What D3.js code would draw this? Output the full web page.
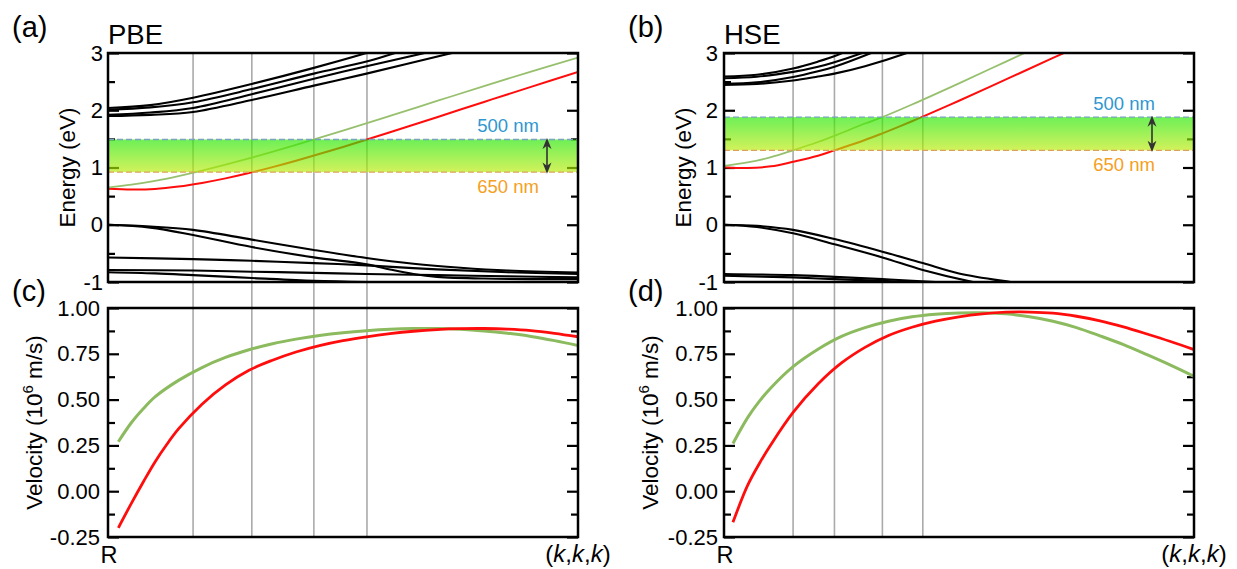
<!DOCTYPE html>
<html><head><meta charset="utf-8">
<script src="https://cdn.jsdelivr.net/npm/d3@7"></script>
<style>
body{margin:0;background:#fff}
svg{display:block}
text{font-family:"Liberation Sans",Arial,sans-serif;fill:#000}
</style>
</head><body>
<svg id="chart" width="1237" height="569"></svg>
<script>
// ---------- DATA (k runs from R = 0 to (k,k,k) = 1) ----------
// Panel (a) PBE energies (eV)
const pbeGreenE = [[0,0.65],[0.05,0.70],[0.1,0.767],[0.15,0.85],[0.2,0.945],[0.3,1.159],[0.4,1.395],[0.5,1.644],[0.6,1.901],[0.7,2.162],[0.8,2.422],[0.9,2.676],[1.0,2.92]];
const pbeRedE = [[0,0.63],[0.05,0.616],[0.1,0.626],[0.15,0.668],[0.2,0.731],[0.25,0.81],[0.3,0.903],[0.35,1.007],[0.4,1.119],[0.5,1.359],[0.6,1.615],[0.7,1.879],[0.8,2.145],[0.9,2.409],[1.0,2.667]];
const pbeCond1 = [[0,2.04],[0.09,2.09],[0.181,2.22],[0.306,2.46],[0.438,2.74],[0.55,3.0],[0.65,3.25]];
const pbeCond2 = [[0,2.01],[0.09,2.05],[0.181,2.14],[0.306,2.37],[0.438,2.64],[0.55,2.85],[0.611,3.0],[0.7,3.22]];
const pbeCond3 = [[0,1.92],[0.09,1.96],[0.181,2.04],[0.306,2.28],[0.438,2.55],[0.55,2.77],[0.674,3.0],[0.75,3.15]];
const pbeCond4 = [[0,1.90],[0.09,1.92],[0.181,1.97],[0.306,2.18],[0.438,2.43],[0.55,2.64],[0.732,3.0],[0.8,3.13]];
const pbeVal1 = [[0,0],[0.09,-0.03],[0.181,-0.09],[0.306,-0.26],[0.438,-0.44],[0.55,-0.58],[0.65,-0.68],[0.75,-0.75],[0.85,-0.80],[1.0,-0.835]];
const pbeVal2 = [[0,0],[0.09,-0.05],[0.181,-0.18],[0.306,-0.39],[0.438,-0.57],[0.55,-0.69],[0.6,-0.78],[0.65,-0.86],[0.7,-0.91],[0.8,-0.94],[1.0,-0.95]];
const pbeVal3 = [[0,-0.573],[0.181,-0.60],[0.306,-0.63],[0.438,-0.67],[0.55,-0.71],[0.7,-0.78],[0.85,-0.83],[1.0,-0.86]];
const pbeVal4 = [[0,-0.79],[0.181,-0.80],[0.306,-0.82],[0.438,-0.84],[0.55,-0.86],[0.7,-0.88],[0.85,-0.90],[1.0,-0.92]];
const pbeVal5 = [[0,-0.83],[0.1,-0.85],[0.181,-0.88],[0.306,-0.93],[0.438,-0.98],[0.55,-1.0],[0.7,-1.01],[1.0,-1.0]];
const pbeBand = [0.92, 1.49];           // 650 nm / 500 nm energies
const pbeMarks = [0.181, 0.306, 0.438, 0.551];

// Panel (c) PBE velocities (10^6 m/s)
const pbeGreenV = [[0.022,0.27],[0.05,0.375],[0.075,0.45],[0.1,0.515],[0.15,0.605],[0.2,0.675],[0.25,0.73],[0.3,0.772],[0.35,0.805],[0.4,0.83],[0.45,0.85],[0.5,0.865],[0.55,0.876],[0.6,0.884],[0.65,0.888],[0.7,0.888],[0.75,0.884],[0.8,0.875],[0.85,0.862],[0.9,0.845],[0.95,0.822],[1.0,0.795]];
const pbeRedV = [[0.022,-0.20],[0.05,-0.065],[0.075,0.05],[0.1,0.16],[0.125,0.255],[0.15,0.34],[0.2,0.475],[0.25,0.58],[0.3,0.66],[0.35,0.715],[0.4,0.76],[0.45,0.795],[0.5,0.822],[0.55,0.843],[0.6,0.86],[0.65,0.873],[0.7,0.882],[0.75,0.887],[0.8,0.888],[0.85,0.885],[0.9,0.877],[0.95,0.862],[1.0,0.843]];

// Panel (b) HSE energies (eV)
const hseGreenE = [[0,1.03],[0.05,1.088],[0.1,1.18],[0.147,1.30],[0.2,1.445],[0.235,1.553],[0.3,1.768],[0.337,1.88],[0.4,2.10],[0.5,2.47],[0.6,2.85],[0.7,3.23]];
const hseRedE = [[0,1.005],[0.05,0.99],[0.1,1.02],[0.147,1.10],[0.2,1.205],[0.235,1.30],[0.3,1.48],[0.337,1.597],[0.4,1.808],[0.423,1.888],[0.5,2.166],[0.6,2.538],[0.7,2.914],[0.8,3.28]];
const hseCond1 = [[0,2.59],[0.07,2.62],[0.147,2.73],[0.2,2.85],[0.24,2.96],[0.3,3.17]];
const hseCond2 = [[0,2.56],[0.07,2.585],[0.147,2.67],[0.2,2.76],[0.235,2.84],[0.294,3.0],[0.35,3.18]];
const hseCond3 = [[0,2.46],[0.07,2.487],[0.147,2.58],[0.2,2.68],[0.235,2.76],[0.313,3.0],[0.37,3.2]];
const hseCond4 = [[0,2.44],[0.07,2.458],[0.147,2.52],[0.2,2.59],[0.235,2.64],[0.3,2.77],[0.389,3.0],[0.45,3.2]];
const hseVal1 = [[0,0],[0.07,-0.02],[0.147,-0.09],[0.235,-0.25],[0.337,-0.47],[0.423,-0.67],[0.5,-0.85],[0.61,-1.0],[0.7,-1.1]];
const hseVal2 = [[0,0],[0.07,-0.04],[0.147,-0.15],[0.235,-0.34],[0.337,-0.57],[0.423,-0.79],[0.53,-1.0],[0.6,-1.1]];
const hseVal3 = [[0,-0.86],[0.147,-0.88],[0.235,-0.91],[0.337,-0.95],[0.45,-1.0],[0.6,-1.05]];
const hseVal4 = [[0,-0.89],[0.147,-0.92],[0.235,-0.95],[0.337,-0.98],[0.4,-1.0],[0.5,-1.03]];
const hseBand = [1.30, 1.88];
const hseMarks = [0.147, 0.235, 0.337, 0.423];

// Panel (d) HSE velocities (10^6 m/s)
const hseGreenV = [[0.019,0.26],[0.05,0.40],[0.075,0.49],[0.1,0.565],[0.147,0.68],[0.2,0.775],[0.25,0.845],[0.3,0.893],[0.35,0.928],[0.4,0.952],[0.45,0.966],[0.5,0.973],[0.55,0.974],[0.6,0.968],[0.65,0.952],[0.7,0.928],[0.75,0.893],[0.8,0.848],[0.85,0.80],[0.9,0.745],[0.95,0.688],[1.0,0.627]];
const hseRedV = [[0.019,-0.17],[0.05,0.03],[0.075,0.15],[0.1,0.255],[0.147,0.43],[0.2,0.585],[0.25,0.70],[0.3,0.785],[0.35,0.85],[0.4,0.895],[0.45,0.928],[0.5,0.952],[0.55,0.968],[0.6,0.977],[0.65,0.978],[0.7,0.972],[0.75,0.955],[0.8,0.93],[0.85,0.897],[0.9,0.858],[0.95,0.817],[1.0,0.773]];

// Tick values / labels
const energyMajor = [-1,0,1,2,3];
const energyMinor = [-0.5,0.5,1.5,2.5];
const velMajor = [-0.25,0,0.25,0.5,0.75,1.0];
const velMinor = [-0.125,0.125,0.375,0.625,0.875];
const bandLabels = ["500 nm","650 nm"];

// ---------- DRAW ----------
const svg = d3.select("#chart");
const RED = "#ff0d0d", GREEN_E = "#97c06e", GREEN_V = "#8cba5e";

const defs = svg.append("defs");
const grad = defs.append("linearGradient").attr("id","bandGrad").attr("x1",0).attr("y1",0).attr("x2",0).attr("y2",1);
grad.append("stop").attr("offset","0%").attr("stop-color","#23e800");
grad.append("stop").attr("offset","100%").attr("stop-color","#bbeb05");
const mk = (id, path) => defs.append("marker").attr("id",id).attr("viewBox","0 0 10 10")
  .attr("refX",5).attr("refY",5).attr("markerWidth",7).attr("markerHeight",7).attr("orient","auto-start-reverse")
  .append("path").attr("d",path).attr("fill","#333");
mk("arrowHead","M0,1 L10,5 L0,9 L3,5 Z");

const curve = d3.curveCatmullRom.alpha(0.5);

function drawColumn(cfg){
  const x = d3.scaleLinear().domain([0,1]).range([cfg.x0, cfg.x1]);
  const yE = d3.scaleLinear().domain([-1,3]).range([282,53]);
  const yV = d3.scaleLinear().domain([-0.25,1]).range([537,308]);
  const g = svg.append("g");

  defs.append("clipPath").attr("id",cfg.id+"E").append("rect")
    .attr("x",cfg.x0).attr("y",53).attr("width",cfg.x1-cfg.x0).attr("height",282-53);
  defs.append("clipPath").attr("id",cfg.id+"V").append("rect")
    .attr("x",cfg.x0).attr("y",308).attr("width",cfg.x1-cfg.x0).attr("height",537-308);

  // vertical grey marker lines spanning both panels
  g.append("g").selectAll("line").data(cfg.marks).join("line")
    .attr("x1",d=>x(d)).attr("x2",d=>x(d)).attr("y1",53).attr("y2",537)
    .attr("stroke","#aaaaaa").attr("stroke-width",1.6);

  // axes with inward ticks
  function ticks(scale, major, minor, fmt, pad){
    g.append("g").attr("transform",`translate(${cfg.x0},0)`)
      .call(d3.axisLeft(scale).tickValues(major).tickSize(-11).tickPadding(pad).tickFormat(fmt))
      .call(a=>{a.select(".domain").remove();
        a.selectAll("line").attr("stroke","#000").attr("stroke-width",2.2);
        a.selectAll("text").attr("font-size",22).attr("font-family","Liberation Sans, Arial, sans-serif").attr("fill","#000");});
    g.append("g").attr("transform",`translate(${cfg.x0},0)`)
      .call(d3.axisLeft(scale).tickValues(minor).tickSize(-7).tickFormat(""))
      .call(a=>{a.select(".domain").remove(); a.selectAll("line").attr("stroke","#000").attr("stroke-width",2.2);});
    g.append("g").attr("transform",`translate(${cfg.x1},0)`)
      .call(d3.axisRight(scale).tickValues(major).tickSize(-11).tickFormat(""))
      .call(a=>{a.select(".domain").remove(); a.selectAll("line").attr("stroke","#000").attr("stroke-width",2.2);});
    g.append("g").attr("transform",`translate(${cfg.x1},0)`)
      .call(d3.axisRight(scale).tickValues(minor).tickSize(-7).tickFormat(""))
      .call(a=>{a.select(".domain").remove(); a.selectAll("line").attr("stroke","#000").attr("stroke-width",2.2);});
  }
  ticks(yE, energyMajor, energyMinor, d=>String(d), cfg.padE);
  ticks(yV, velMajor, velMinor, d=>d.toFixed(2), cfg.padV);

  // energy curves
  const lineE = d3.line().x(d=>x(d[0])).y(d=>yE(d[1])).curve(curve);
  const ge = g.append("g").attr("clip-path",`url(#${cfg.id}E)`);
  ge.selectAll("path.blk").data(cfg.black).join("path").attr("class","blk")
    .attr("d",lineE).attr("fill","none").attr("stroke","#000").attr("stroke-width",2.1);
  ge.append("path").attr("d",lineE(cfg.redE)).attr("fill","none").attr("stroke",RED).attr("stroke-width",2);
  ge.append("path").attr("d",lineE(cfg.greenE)).attr("fill","none").attr("stroke",GREEN_E).attr("stroke-width",1.8);

  // visible-light band (semi-transparent)
  const yTop = yE(cfg.band[1]), yBot = yE(cfg.band[0]);
  ge.append("rect").attr("x",cfg.x0).attr("y",yTop).attr("width",cfg.x1-cfg.x0).attr("height",yBot-yTop)
    .attr("fill","url(#bandGrad)").attr("opacity",0.66);
  ge.append("line").attr("x1",cfg.x0).attr("x2",cfg.x1).attr("y1",yTop).attr("y2",yTop)
    .attr("stroke","#7aa3bd").attr("stroke-width",1.4).attr("stroke-dasharray","6,3");
  ge.append("line").attr("x1",cfg.x0).attr("x2",cfg.x1).attr("y1",yBot).attr("y2",yBot)
    .attr("stroke","#d9a35e").attr("stroke-width",1.4).attr("stroke-dasharray","6,3");
  // double arrow
  g.append("line").attr("x1",cfg.arrowX).attr("x2",cfg.arrowX).attr("y1",yTop+4).attr("y2",yBot-4)
    .attr("stroke","#333").attr("stroke-width",1.6)
    .attr("marker-start","url(#arrowHead)").attr("marker-end","url(#arrowHead)");
  // wavelength labels
  g.append("text").attr("x",cfg.x1-39).attr("y",yTop-7).attr("text-anchor","end")
    .attr("font-size",18.5).style("fill","#2f97d0").text(bandLabels[0]);
  g.append("text").attr("x",cfg.x1-39).attr("y",yBot+21).attr("text-anchor","end")
    .attr("font-size",18.5).style("fill","#f5a01e").text(bandLabels[1]);

  // velocity curves
  const lineV = d3.line().x(d=>x(d[0])).y(d=>yV(d[1])).curve(curve);
  const gv = g.append("g").attr("clip-path",`url(#${cfg.id}V)`);
  gv.append("path").attr("d",lineV(cfg.greenV)).attr("fill","none").attr("stroke",GREEN_V).attr("stroke-width",3);
  gv.append("path").attr("d",lineV(cfg.redV)).attr("fill","none").attr("stroke",RED).attr("stroke-width",2.8);

  // frames
  g.append("rect").attr("x",cfg.x0).attr("y",53).attr("width",cfg.x1-cfg.x0).attr("height",282-53)
    .attr("fill","none").attr("stroke","#000").attr("stroke-width",2.5);
  g.append("rect").attr("x",cfg.x0).attr("y",308).attr("width",cfg.x1-cfg.x0).attr("height",537-308)
    .attr("fill","none").attr("stroke","#000").attr("stroke-width",2.5);

  // titles and labels
  g.append("text").attr("x",cfg.x0-96).attr("y",37).attr("font-size",29)
    .attr("font-family","DejaVu Sans, sans-serif").text(cfg.tagTop);
  g.append("text").attr("x",cfg.x0-96).attr("y",301).attr("font-size",29)
    .attr("font-family","DejaVu Sans, sans-serif").text(cfg.tagBot);
  g.append("text").attr("x",cfg.x0).attr("y",44).attr("font-size",27.5).text(cfg.method);
  g.append("text").attr("transform",`translate(${cfg.x0-33},${(53+282)/2}) rotate(-90)`)
    .attr("text-anchor","middle").attr("font-size",22.5).text("Energy (eV)");
  const vt = g.append("text").attr("transform",`translate(${cfg.x0-66},${(308+537)/2}) rotate(-90)`)
    .attr("text-anchor","middle").attr("font-size",22.5);
  vt.append("tspan").text("Velocity (10");
  vt.append("tspan").attr("dy",-9).attr("font-size",15).text("6");
  vt.append("tspan").attr("dy",9).text(" m/s)");
  g.append("text").attr("x",x(0)+1).attr("y",563).attr("text-anchor","middle").attr("font-size",23.5).text("R");
  const kt = g.append("text").attr("x",x(1)).attr("y",562).attr("text-anchor","middle")
    .attr("font-size",24).attr("font-family","DejaVu Sans, sans-serif");
  kt.append("tspan").text("(");
  kt.append("tspan").attr("font-style","italic").text("k");
  kt.append("tspan").text(",");
  kt.append("tspan").attr("font-style","italic").text("k");
  kt.append("tspan").text(",");
  kt.append("tspan").attr("font-style","italic").text("k");
  kt.append("tspan").text(")");
}

drawColumn({id:"pbe", x0:108, x1:578, marks:pbeMarks, band:pbeBand,
  black:[pbeCond1,pbeCond2,pbeCond3,pbeCond4,pbeVal1,pbeVal2,pbeVal3,pbeVal4,pbeVal5],
  redE:pbeRedE, greenE:pbeGreenE, redV:pbeRedV, greenV:pbeGreenV,
  arrowX:547, padE:5, padV:8, tagTop:"(a)", tagBot:"(c)", method:"PBE"});
drawColumn({id:"hse", x0:724, x1:1194, marks:hseMarks, band:hseBand,
  black:[hseCond1,hseCond2,hseCond3,hseCond4,hseVal1,hseVal2,hseVal3,hseVal4],
  redE:hseRedE, greenE:hseGreenE, redV:hseRedV, greenV:hseGreenV,
  arrowX:1152, padE:6, padV:6, tagTop:"(b)", tagBot:"(d)", method:"HSE"});
</script>
</body></html>
